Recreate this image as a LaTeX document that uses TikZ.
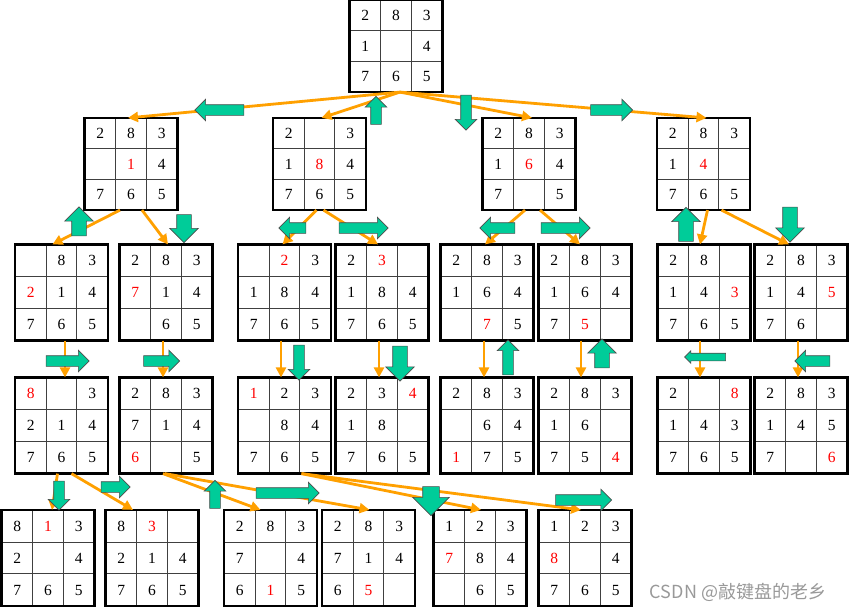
\documentclass[tikz,border=0pt]{standalone}
\usepackage{fontspec}
\setmainfont{Liberation Serif}
\newfontfamily\markfont{Noto Sans CJK SC}
\usetikzlibrary{arrows.meta, matrix, shapes.arrows}
\definecolor{FlowOrange}{HTML}{FFA000}
\definecolor{MoveGreen}{HTML}{00CC99}
\tikzset{
  cell/.style={draw=black!75, line width=0.9pt, minimum width=30.77pt,
    minimum height=30.43pt, inner sep=0pt, anchor=center,
    text height=10.5pt, text depth=0pt, font=\fontsize{15.5}{16}\selectfont},
  puzzle/.style={matrix of nodes, nodes in empty cells, inner sep=0pt,
    outer sep=0pt, column sep=-0.9pt, row sep=-0.9pt, nodes={cell}},
  tall/.style={nodes={minimum height=31.77pt}},
  hot/.style={text=red},
  frame/.style={draw=black, line width=2.6pt},
  flow/.style={-{Triangle[length=10pt, width=10pt]}, line width=2.8pt, draw=FlowOrange},
  move/.style={single arrow, draw=black!70, fill=MoveGreen, line width=0.6pt,
    inner sep=5pt, single arrow head extend=5.5pt},
  wide/.style={inner sep=7pt, single arrow head extend=7pt},
  mright/.style={move, shape border rotate=0},
  mleft/.style={move, shape border rotate=180},
  mup/.style={move, shape border rotate=90},
  mdown/.style={move, shape border rotate=270},
  wmark/.style={text=black!40, font=\markfont\fontsize{18}{20}\selectfont, inner sep=0pt},
}

\begin{document}
\begin{tikzpicture}[x=1pt, y=-1pt]
    \useasboundingbox (0,0) rectangle (850,611);
    % start state
    \matrix (root) [puzzle] at (396,46) { 2 & 8 & 3 \\ 1 & & 4 \\ 7 & 6 & 5 \\ };
    % depth 1
    \matrix (A) [puzzle] at (131,164) { 2 & 8 & 3 \\ & |[hot]| 1 & 4 \\ 7 & 6 & 5 \\ };
    \matrix (B) [puzzle] at (319.5,164) { 2 & & 3 \\ 1 & |[hot]| 8 & 4 \\ 7 & 6 & 5 \\ };
    \matrix (C) [puzzle] at (529,164) { 2 & 8 & 3 \\ 1 & |[hot]| 6 & 4 \\ 7 & & 5 \\ };
    \matrix (D) [puzzle] at (703.5,164) { 2 & 8 & 3 \\ 1 & |[hot]| 4 & \\ 7 & 6 & 5 \\ };
    % depth 2
    \matrix (E1) [puzzle, tall] at (61.5,292.5) { & 8 & 3 \\ |[hot]| 2 & 1 & 4 \\ 7 & 6 & 5 \\ };
    \matrix (E2) [puzzle, tall] at (166,292.5) { 2 & 8 & 3 \\ |[hot]| 7 & 1 & 4 \\ & 6 & 5 \\ };
    \matrix (E3) [puzzle, tall] at (284.5,292.5) { & |[hot]| 2 & 3 \\ 1 & 8 & 4 \\ 7 & 6 & 5 \\ };
    \matrix (E4) [puzzle, tall] at (382,292.5) { 2 & |[hot]| 3 & \\ 1 & 8 & 4 \\ 7 & 6 & 5 \\ };
    \matrix (E5) [puzzle, tall] at (487,292.5) { 2 & 8 & 3 \\ 1 & 6 & 4 \\ & |[hot]| 7 & 5 \\ };
    \matrix (E6) [puzzle, tall] at (585,292.5) { 2 & 8 & 3 \\ 1 & 6 & 4 \\ 7 & |[hot]| 5 & \\ };
    \matrix (E7) [puzzle, tall] at (704,292.5) { 2 & 8 & \\ 1 & 4 & |[hot]| 3 \\ 7 & 6 & 5 \\ };
    \matrix (E8) [puzzle, tall] at (801,292.5) { 2 & 8 & 3 \\ 1 & 4 & |[hot]| 5 \\ 7 & 6 & \\ };
    % depth 3
    \matrix (F1) [puzzle, tall] at (61.5,425.5) { |[hot]| 8 & & 3 \\ 2 & 1 & 4 \\ 7 & 6 & 5 \\ };
    \matrix (F2) [puzzle, tall] at (166,425.5) { 2 & 8 & 3 \\ 7 & 1 & 4 \\ |[hot]| 6 & & 5 \\ };
    \matrix (F3) [puzzle, tall] at (284.5,425.5) { |[hot]| 1 & 2 & 3 \\ & 8 & 4 \\ 7 & 6 & 5 \\ };
    \matrix (F4) [puzzle, tall] at (382,425.5) { 2 & 3 & |[hot]| 4 \\ 1 & 8 & \\ 7 & 6 & 5 \\ };
    \matrix (F5) [puzzle, tall] at (487,425.5) { 2 & 8 & 3 \\ & 6 & 4 \\ |[hot]| 1 & 7 & 5 \\ };
    \matrix (F6) [puzzle, tall] at (585,425.5) { 2 & 8 & 3 \\ 1 & 6 & \\ 7 & 5 & |[hot]| 4 \\ };
    \matrix (F7) [puzzle, tall] at (704,425.5) { 2 & & |[hot]| 8 \\ 1 & 4 & 3 \\ 7 & 6 & 5 \\ };
    \matrix (F8) [puzzle, tall] at (801,425.5) { 2 & 8 & 3 \\ 1 & 4 & 5 \\ 7 & & |[hot]| 6 \\ };
    % depth 4
    \matrix (G1) [puzzle, tall] at (48,558) { 8 & |[hot]| 1 & 3 \\ 2 & & 4 \\ 7 & 6 & 5 \\ };
    \matrix (G2) [puzzle, tall] at (152,558) { 8 & |[hot]| 3 & \\ 2 & 1 & 4 \\ 7 & 6 & 5 \\ };
    \matrix (G3) [puzzle, tall] at (270.5,558) { 2 & 8 & 3 \\ 7 & & 4 \\ 6 & |[hot]| 1 & 5 \\ };
    \matrix (G4) [puzzle, tall] at (368.5,558) { 2 & 8 & 3 \\ 7 & 1 & 4 \\ 6 & |[hot]| 5 & \\ };
    \matrix (G5) [puzzle, tall] at (480,558) { 1 & 2 & 3 \\ |[hot]| 7 & 8 & 4 \\ & 6 & 5 \\ };
    \matrix (G6) [puzzle, tall] at (585,558) { 1 & 2 & 3 \\ |[hot]| 8 & & 4 \\ 7 & 6 & 5 \\ };
    \foreach \n in {root,A,B,C,D,E1,E2,E3,E4,E5,E6,E7,E8,F1,F2,F3,F4,F5,F6,F7,F8,G1,G2,G3,G4,G5,G6}
      \draw[frame] (\n.north west) rectangle (\n.south east);

    % search tree edges
    \draw[flow] ([xshift=4pt]root.south) -- ([xshift=-3pt]A.north);
    \draw[flow] ([xshift=4pt]root.south) -- ([xshift=2pt]B.north);
    \draw[flow] ([xshift=4pt]root.south) -- ([xshift=3pt]C.north);
    \draw[flow] ([xshift=4pt]root.south) -- ([xshift=3pt]D.north);
    \draw[flow] ([xshift=-11pt]A.south) -- ([xshift=-9pt]E1.north);
    \draw[flow] ([xshift=11pt]A.south) -- ([xshift=2pt]E2.north);
    \draw[flow] ([xshift=-3pt]B.south) -- ([xshift=-2pt]E3.north);
    \draw[flow] ([xshift=4pt]B.south) -- ([xshift=-4pt]E4.north);
    \draw[flow] ([xshift=-4pt]C.south) -- ([xshift=-2pt]E5.north);
    \draw[flow] ([xshift=11pt]C.south) -- ([xshift=-5pt]E6.north);
    \draw[flow] ([xshift=4pt]D.south) -- ([xshift=-4pt]E7.north);
    \draw[flow] ([xshift=18pt]D.south) -- ([xshift=-12pt]E8.north);
    \foreach \u/\v/\s in {E1/F1/3.5, E2/F2/-3, E3/F3/-3.5, E4/F4/-3, E5/F5/-3, E6/F6/-4, E7/F7/-4, E8/F8/-3}
      \draw[flow] ([xshift=\s pt]\u.south) -- ([xshift=\s pt]\v.north);
    \draw[flow] ([xshift=-4pt]F1.south) -- ([xshift=4pt]G1.north);
    \draw[flow] ([xshift=10pt]F1.south) -- ([xshift=-19pt]G2.north);
    \draw[flow] ([xshift=-3pt]F2.south) -- ([xshift=-10pt]G3.north);
    \draw[flow] ([xshift=-1pt]F2.south) -- ([xshift=1pt]G4.north);
    \draw[flow] ([xshift=17pt]F3.south) -- ([xshift=1pt]G5.north);
    \draw[flow] ([xshift=17pt]F3.south) -- ([xshift=-4pt]G6.north);

    % blank tile moves
    \node[mleft, minimum height=49pt] (m0a) at (222,110) {};
    \node[mup, minimum height=28pt] (m0b) at (376,113) {};
    \node[mdown, minimum height=35pt] (m0c) at (466,110) {};
    \node[mright, minimum height=42pt] (m0d) at (609,110) {};
    \node[mup, wide, minimum height=29pt] (m1a) at (79,225) {};
    \node[mdown, wide, minimum height=28pt] (m1b) at (184,225) {};
    \node[mleft, minimum height=27pt] (m1c) at (295,228) {};
    \node[mright, minimum height=49pt] (m1d) at (361,228) {};
    \node[mleft, minimum height=35pt] (m1e) at (500,228) {};
    \node[mright, minimum height=49pt] (m1f) at (563,228) {};
    \node[mup, wide, minimum height=34pt] (m1g) at (686,228) {};
    \node[mdown, wide, minimum height=35pt] (m1h) at (790,221) {};
    \node[mright, minimum height=43pt] (m2a) at (65,361) {};
    \node[mright, minimum height=36pt] (m2b) at (159,361) {};
    \node[mdown, minimum height=35pt] (m2c) at (299,360) {};
    \node[mdown, wide, minimum height=35pt] (m2d) at (400,360) {};
    \node[mup, minimum height=35pt] (m2e) at (508,360) {};
    \node[mup, wide, minimum height=29pt] (m2f) at (602,357) {};
    \node[mleft, minimum height=41pt, inner sep=3.5pt, single arrow head extend=2.5pt] (m2g) at (707,357) {};
    \node[mleft, minimum height=35pt] (m2h) at (815,361) {};
    \node[mdown, minimum height=29pt] (m3a) at (59,493) {};
    \node[mright, minimum height=29pt] (m3b) at (113,487) {};
    \node[mup, minimum height=28pt] (m3c) at (215,497) {};
    \node[mright, minimum height=63pt] (m3d) at (285,493) {};
    \node[mdown, minimum height=29pt, inner sep=8pt, single arrow head extend=10pt] (m3e) at (431,497) {};
    \node[mright, minimum height=56pt] (m3f) at (581,500) {};

    \node[wmark] (csdn) at (738,592) {CSDN @敲键盘的老乡};
\end{tikzpicture}
\end{document}
